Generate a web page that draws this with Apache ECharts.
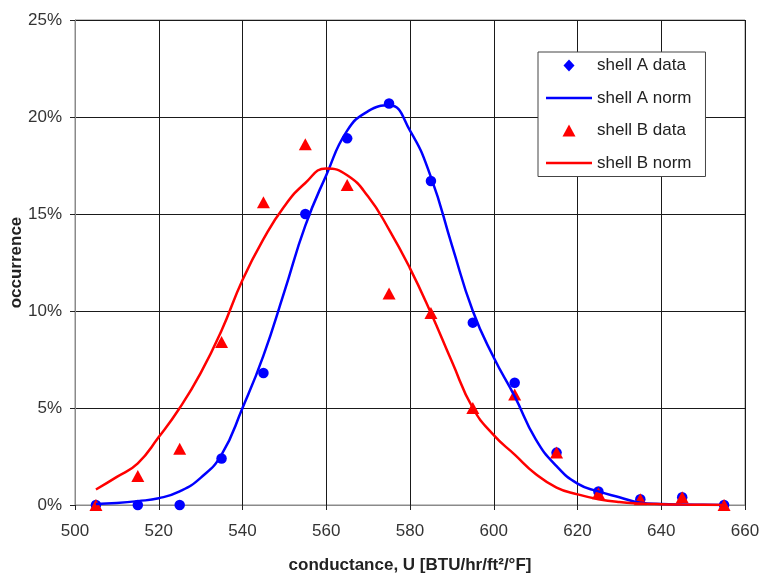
<!DOCTYPE html>
<html>
<head>
<meta charset="utf-8">
<script src="https://cdn.jsdelivr.net/npm/echarts@6/dist/echarts.min.js"></script>
<style>
  html, body { margin: 0; padding: 0; background: #ffffff; }
  #chart { width: 760px; height: 574px; }
</style>
</head>
<body>
<div id="chart"></div>
<script>
// Conductance bin centres, U [BTU/hr/ft²/°F]
const conductance = [505, 515, 525, 535, 545, 555, 565, 575, 585, 595, 605, 615, 625, 635, 645, 655];

// Measured occurrence (%) per bin
const shellAData = [0, 0, 0, 2.4, 6.8, 15.0, 18.9, 20.7, 16.7, 9.4, 6.3, 2.7, 0.7, 0.3, 0.4, 0];
const shellBData = [0, 1.5, 2.9, 8.4, 15.6, 18.6, 16.5, 10.9, 9.9, 5.0, 5.7, 2.7, 0.6, 0.3, 0.4, 0];

// Fitted normal distributions (%), sampled every 5 units
const normConductance = [505, 510, 515, 520, 525, 530, 535, 540, 545, 550, 555, 560, 565, 570, 575, 580,
                         585, 590, 595, 600, 605, 610, 615, 620, 625, 630, 635, 640, 645, 650, 655];
const shellANorm = [0.05, 0.1, 0.2, 0.35, 0.7, 1.4, 2.6, 5.0, 7.7, 11.0, 14.4, 17.0, 19.3, 20.3, 20.6, 19.3,
                    16.9, 13.4, 10.0, 7.6, 5.6, 3.4, 2.0, 1.1, 0.7, 0.4, 0.12, 0.05, 0.02, 0.01, 0];
const shellBNorm = [0.8, 1.45, 2.15, 3.5, 5.0, 6.8, 9.0, 11.6, 13.7, 15.4, 16.6, 17.35, 17.0, 15.9, 14.2, 12.2,
                    9.9, 7.4, 5.0, 3.6, 2.6, 1.6, 0.9, 0.55, 0.3, 0.15, 0.08, 0.04, 0.02, 0.01, 0];

// Axis ranges [min, max, step]
const xRange = [500, 660, 20];
const yRange = [0, 25, 5];

const seriesNames = ['shell A data', 'shell A norm', 'shell B data', 'shell B norm'];

const pairs = (xs, ys) => xs.map((x, i) => [x, ys[i]]);

const FONT = '"Liberation Sans", Arial, sans-serif';
const BLUE = '#0000ff';
const RED = '#ff0000';

// Legend glyphs: a small diamond, a triangle and a short line segment
const ICON_DIAMOND = 'path://M5.5,0 L11,6 L5.5,12 L0,6 Z';
const ICON_TRIANGLE = 'path://M6.5,0 L13,12 L0,12 Z';
const ICON_LINE = 'path://M0,0 L46,0 L46,2.5 L0,2.5 Z';

const chart = echarts.init(document.getElementById('chart'), null, { renderer: 'canvas' });

chart.setOption({
  backgroundColor: '#ffffff',
  animation: false,
  textStyle: { fontFamily: FONT },
  grid: {
    left: 75, right: 15, top: 20, bottom: 69,
    containLabel: false,
    outerBoundsMode: 'none',
    show: true, borderColor: '#8a8a8a', borderWidth: 1, backgroundColor: 'transparent'
  },
  legend: {
    orient: 'vertical',
    left: 538, top: 52,
    padding: [5, 14, 5, 8],
    itemGap: 15.5,
    itemWidth: 46,
    itemHeight: 12,
    backgroundColor: '#ffffff',
    borderColor: '#444',
    borderWidth: 1,
    borderRadius: 0,
    textStyle: { fontFamily: FONT, fontSize: 17, color: '#222' },
    data: [
      { name: seriesNames[0], icon: ICON_DIAMOND, itemStyle: { color: BLUE, borderWidth: 0 } },
      { name: seriesNames[1], icon: ICON_LINE, itemStyle: { color: BLUE, borderWidth: 0 } },
      { name: seriesNames[2], icon: ICON_TRIANGLE, itemStyle: { color: RED, borderWidth: 0 } },
      { name: seriesNames[3], icon: ICON_LINE, itemStyle: { color: RED, borderWidth: 0 } }
    ]
  },
  xAxis: {
    type: 'value',
    min: xRange[0], max: xRange[1], interval: xRange[2],
    name: 'conductance, U [BTU/hr/ft²/°F]',
    nameLocation: 'middle',
    nameGap: 52,
    nameMoveOverlap: false,
    nameTextStyle: { fontFamily: FONT, fontSize: 17, fontWeight: 'bold', color: '#222' },
    axisLine: { show: true, lineStyle: { color: '#8a8a8a', width: 1 } },
    axisTick: { show: true, inside: false, length: 5, lineStyle: { color: '#222' } },
    axisLabel: { fontFamily: FONT, fontSize: 17, color: '#333', margin: 18 },
    splitLine: { show: true, lineStyle: { color: '#1a1a1a', width: 1 } }
  },
  yAxis: {
    type: 'value',
    min: yRange[0], max: yRange[1], interval: yRange[2],
    name: 'occurrence',
    nameLocation: 'middle',
    nameGap: 50,
    nameMoveOverlap: false,
    nameTextStyle: { fontFamily: FONT, fontSize: 17, fontWeight: 'bold', color: '#222' },
    axisLine: { show: true, lineStyle: { color: '#8a8a8a', width: 1 } },
    axisTick: { show: true, inside: false, length: 5, lineStyle: { color: '#222' } },
    axisLabel: { fontFamily: FONT, fontSize: 17, color: '#333', margin: 13, formatter: '{value}%' },
    splitLine: { show: true, lineStyle: { color: '#1a1a1a', width: 1 } }
  },
  series: [
    {
      name: seriesNames[0],
      type: 'scatter',
      symbol: 'circle',
      symbolSize: 10.5,
      itemStyle: { color: BLUE, opacity: 1 },
      data: pairs(conductance, shellAData)
    },
    {
      name: seriesNames[1],
      type: 'line',
      smooth: 0.5,
      showSymbol: false,
      symbol: 'none',
      lineStyle: { color: BLUE, width: 2.5 },
      itemStyle: { color: BLUE },
      data: pairs(normConductance, shellANorm)
    },
    {
      name: seriesNames[2],
      type: 'scatter',
      symbol: 'triangle',
      symbolSize: [13, 12],
      itemStyle: { color: RED, opacity: 1 },
      data: pairs(conductance, shellBData)
    },
    {
      name: seriesNames[3],
      type: 'line',
      smooth: 0.5,
      showSymbol: false,
      symbol: 'none',
      lineStyle: { color: RED, width: 2.5 },
      itemStyle: { color: RED },
      data: pairs(normConductance, shellBNorm)
    }
  ]
});
</script>
</body>
</html>
